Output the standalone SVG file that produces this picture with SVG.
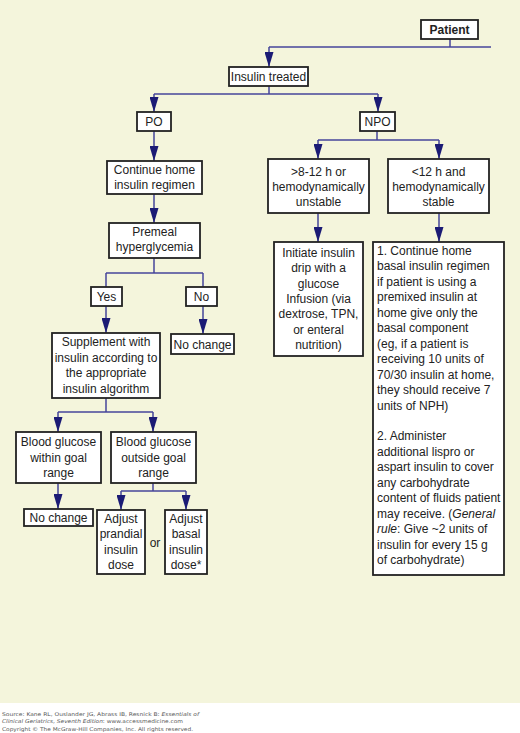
<svg xmlns="http://www.w3.org/2000/svg" width="520" height="733" viewBox="0 0 520 733">
<style>
.bx{fill:#ffffff;stroke:#222222;stroke-width:1.8}
.t{font-family:"Liberation Sans",Arial,sans-serif;font-size:12px;fill:#222222;text-anchor:middle}
.tl{font-family:"Liberation Sans",Arial,sans-serif;font-size:12px;fill:#222222}
.b{font-weight:bold}
.c{fill:none;stroke:#45459a;stroke-width:1.5}
.a{marker-end:url(#ah)}
.f{font-family:"DejaVu Sans",Verdana,sans-serif;font-size:5.2px;fill:#555555}
</style>
<defs>
<marker id="ah" markerUnits="userSpaceOnUse" markerWidth="15" markerHeight="9" viewBox="0 0 15 9" refX="15" refY="4.5" orient="auto">
<path d="M0,0 L15,4.5 L0,9 Z" fill="#1b1b75"/>
</marker>
</defs>
<rect x="0" y="0" width="520" height="703" fill="#f4f5dc"/>
<rect x="0" y="703" width="520" height="30" fill="#ffffff"/>

<g id="connectors">
<path class="c" d="M450,39 V47 M269,47 H491"/>
<path class="c a" d="M269,47 V67"/>
<path class="c" d="M269,86 V94 M154,94 H378"/>
<path class="c a" d="M154,94 V112"/>
<path class="c a" d="M378,94 V112"/>
<path class="c a" d="M154,131 V161"/>
<path class="c a" d="M154,194 V223"/>
<path class="c" d="M377,131 V140 M318,140 H439"/>
<path class="c a" d="M318,140 V159"/>
<path class="c a" d="M439,140 V159"/>
<path class="c a" d="M318,213 V242"/>
<path class="c a" d="M439,213 V242"/>
<path class="c" d="M154,258 V273 M106,273 H203 M106,273 V287 M203,273 V287"/>
<path class="c a" d="M106,306 V333"/>
<path class="c a" d="M203,306 V334"/>
<path class="c" d="M106,398 V412 M58,412 H153"/>
<path class="c a" d="M58,412 V432"/>
<path class="c a" d="M153,412 V432"/>
<path class="c a" d="M58,483 V509"/>
<path class="c" d="M153,483 V491 M121,491 H186"/>
<path class="c a" d="M121,491 V510"/>
<path class="c a" d="M186,491 V510"/>
</g>

<g id="patient"><rect class="bx" x="421" y="20" width="57" height="19"/><text class="t b" x="449.5" y="34">Patient</text></g>
<g id="insulin-treated"><rect class="bx" x="229" y="67" width="79" height="19"/><text class="t" x="268.5" y="81">Insulin treated</text></g>
<g id="po"><rect class="bx" x="137" y="112" width="34" height="19"/><text class="t" x="154" y="126">PO</text></g>
<g id="npo"><rect class="bx" x="360" y="112" width="35" height="19"/><text class="t" x="377.5" y="126">NPO</text></g>
<g id="continue-home"><rect class="bx" x="107" y="161" width="95" height="33"/><text class="t" x="154.5" y="173.5">Continue home</text><text class="t" x="154.5" y="188.5">insulin regimen</text></g>
<g id="premeal"><rect class="bx" x="109" y="223" width="91" height="35"/><text class="t" x="154.5" y="236">Premeal</text><text class="t" x="154.5" y="251">hyperglycemia</text></g>
<g id="unstable"><rect class="bx" x="268" y="159" width="101" height="54"/><text class="t" x="318.5" y="176">&gt;8-12 h or</text><text class="t" x="318.5" y="191">hemodynamically</text><text class="t" x="318.5" y="206">unstable</text></g>
<g id="stable"><rect class="bx" x="388" y="159" width="101" height="54"/><text class="t" x="438.5" y="176">&lt;12 h and</text><text class="t" x="438.5" y="191">hemodynamically</text><text class="t" x="438.5" y="206">stable</text></g>
<g id="initiate"><rect class="bx" x="274" y="242" width="89" height="114"/>
<text class="t" x="318.5" y="257">Initiate insulin</text>
<text class="t" x="318.5" y="272.3">drip with a</text>
<text class="t" x="318.5" y="287.6">glucose</text>
<text class="t" x="318.5" y="303">Infusion (via</text>
<text class="t" x="318.5" y="318.3">dextrose, TPN,</text>
<text class="t" x="318.5" y="333.6">or enteral</text>
<text class="t" x="318.5" y="349">nutrition)</text>
</g>
<g id="continue-basal"><rect class="bx" x="373" y="242" width="131" height="333"/>
<text class="tl" x="377" y="255">1. Continue home</text>
<text class="tl" x="377" y="270.45">basal insulin regimen</text>
<text class="tl" x="377" y="285.9">if patient is using a</text>
<text class="tl" x="377" y="301.35">premixed insulin at</text>
<text class="tl" x="377" y="316.8">home give only the</text>
<text class="tl" x="377" y="332.25">basal component</text>
<text class="tl" x="377" y="347.7">(eg, if a patient is</text>
<text class="tl" x="377" y="363.15">receiving 10 units of</text>
<text class="tl" x="377" y="378.6">70/30 insulin at home,</text>
<text class="tl" x="377" y="394.05">they should receive 7</text>
<text class="tl" x="377" y="409.5">units of NPH)</text>
<text class="tl" x="377" y="440.4">2. Administer</text>
<text class="tl" x="377" y="455.85">additional lispro or</text>
<text class="tl" x="377" y="471.3">aspart insulin to cover</text>
<text class="tl" x="377" y="486.75">any carbohydrate</text>
<text class="tl" x="377" y="502.2">content of fluids patient</text>
<text class="tl" x="377" y="517.65">may receive. (<tspan font-style="italic">General</tspan></text>
<text class="tl" x="377" y="533.1"><tspan font-style="italic">rule</tspan>: Give ~2 units of</text>
<text class="tl" x="377" y="548.55">insulin for every 15 g</text>
<text class="tl" x="377" y="564">of carbohydrate)</text>
</g>
<g id="yes"><rect class="bx" x="91" y="287" width="31" height="19"/><text class="t" x="106.5" y="301">Yes</text></g>
<g id="no"><rect class="bx" x="186" y="287" width="31" height="19"/><text class="t" x="201.5" y="301">No</text></g>
<g id="supplement"><rect class="bx" x="52" y="333" width="108" height="65"/>
<text class="t" x="106" y="346">Supplement with</text>
<text class="t" x="106" y="361.5">insulin according to</text>
<text class="t" x="106" y="377">the appropriate</text>
<text class="t" x="106" y="392.5">insulin algorithm</text>
</g>
<g id="no-change-1"><rect class="bx" x="171" y="334" width="63" height="20"/><text class="t" x="202.5" y="348.5">No change</text></g>
<g id="within-goal"><rect class="bx" x="16" y="432" width="85" height="51"/><text class="t" x="58.5" y="446">Blood glucose</text><text class="t" x="58.5" y="461.5">within goal</text><text class="t" x="58.5" y="477">range</text></g>
<g id="outside-goal"><rect class="bx" x="111" y="432" width="85" height="51"/><text class="t" x="153.5" y="446">Blood glucose</text><text class="t" x="153.5" y="461.5">outside goal</text><text class="t" x="153.5" y="477">range</text></g>
<g id="no-change-2"><rect class="bx" x="24" y="509" width="69" height="17"/><text class="t" x="58.5" y="521.5">No change</text></g>
<g id="adjust-prandial"><rect class="bx" x="97" y="510" width="48" height="64"/>
<text class="t" x="121" y="522.5">Adjust</text><text class="t" x="121" y="538">prandial</text><text class="t" x="121" y="553.5">insulin</text><text class="t" x="121" y="569">dose</text></g>
<g id="adjust-basal"><rect class="bx" x="165" y="510" width="42" height="64"/>
<text class="t" x="186" y="522.5">Adjust</text><text class="t" x="186" y="538">basal</text><text class="t" x="186" y="553.5">insulin</text><text class="t" x="186" y="569">dose*</text></g>
<text class="t" x="155" y="547">or</text>

<text class="f" x="2" y="716" textLength="197" lengthAdjust="spacingAndGlyphs">Source: Kane RL, Ouslander JG, Abrass IB, Resnick B: <tspan font-style="italic">Essentials of</tspan></text>
<text class="f" x="2" y="723" textLength="181" lengthAdjust="spacingAndGlyphs"><tspan font-style="italic">Clinical Geriatrics, Seventh Edition</tspan>: www.accessmedicine.com</text>
<text class="f" x="2" y="731" textLength="191" lengthAdjust="spacingAndGlyphs">Copyright © The McGraw-Hill Companies, Inc. All rights reserved.</text>
</svg>
